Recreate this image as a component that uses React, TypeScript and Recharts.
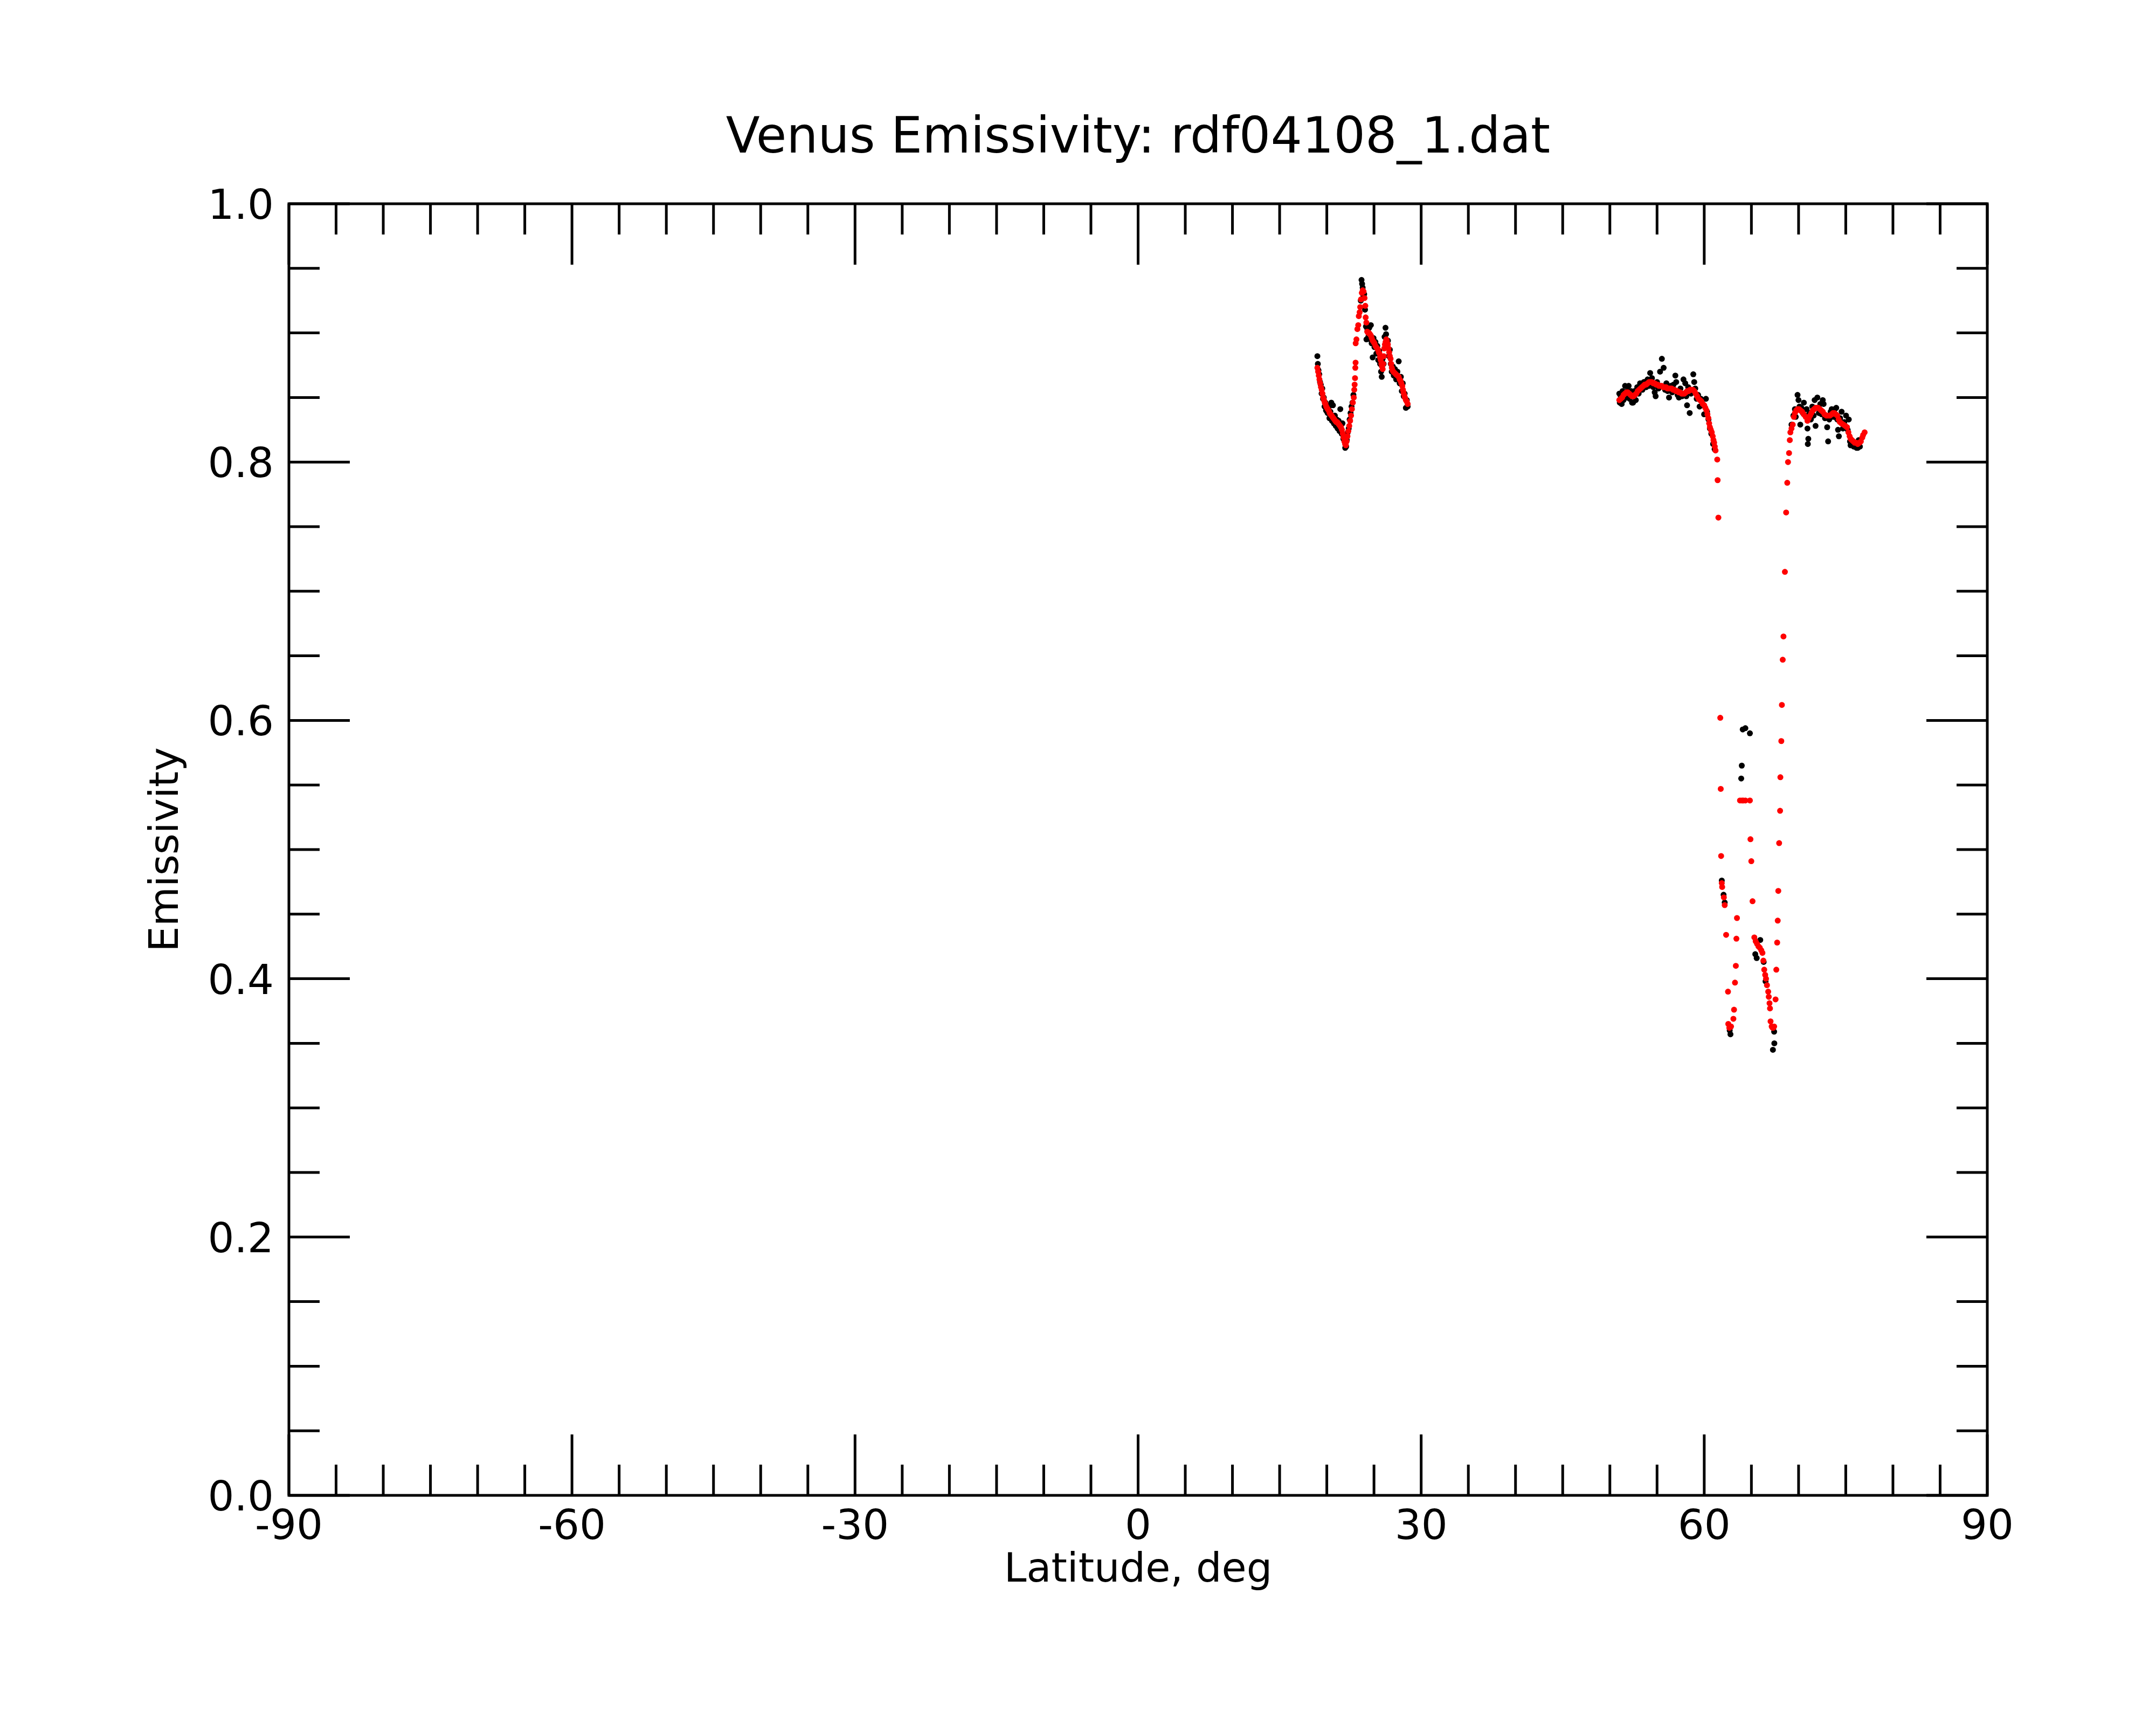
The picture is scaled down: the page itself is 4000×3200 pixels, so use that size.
import React from 'react';
import { ScatterChart, Scatter, XAxis, YAxis, ReferenceArea } from 'recharts';

// ---------- tick definitions ----------
const xMajorTicks = [-90, -60, -30, 0, 30, 60, 90];
const xTickLabels = ['-90', '-60', '-30', '0', '30', '60', '90'];
const xAllTicks = [-90, -85, -80, -75, -70, -65, -60, -55, -50, -45, -40, -35, -30, -25, -20, -15, -10, -5, 0, 5, 10, 15, 20, 25, 30, 35, 40, 45, 50, 55, 60, 65, 70, 75, 80, 85, 90];
const yMajorTicks = [0, 0.2, 0.4, 0.6, 0.8, 1.0];
const yTickLabels = ['0.0', '0.2', '0.4', '0.6', '0.8', '1.0'];
const yAllTicks = [0, 0.05, 0.1, 0.15, 0.2, 0.25, 0.3, 0.35, 0.4, 0.45, 0.5, 0.55, 0.6, 0.65, 0.7, 0.75, 0.8, 0.85, 0.9, 0.95, 1.0];

// ---------- raw emissivity (black) ----------
const blackLat = [
  19.00, 19.05, 19.12, 19.20, 19.28, 19.36, 19.45, 19.52, 19.60, 19.68, 19.76, 19.85, 19.92, 20.00, 20.08, 20.18, 20.28, 20.38, 20.48, 20.55,
  20.65, 20.75, 20.85, 20.95, 21.05, 21.15, 21.25, 21.35, 21.43, 21.50, 21.58, 21.66, 21.75, 21.85, 21.95, 22.05, 22.12, 22.22, 22.32, 22.42,
  22.52, 22.62, 22.72, 22.82,
  23.60, 23.68, 23.74, 23.80, 23.88, 23.96, 24.05, 24.15, 24.20, 24.30, 24.40, 24.50, 24.60, 24.67, 24.75, 24.86, 24.95, 25.05, 25.15, 25.25,
  25.35, 25.45, 25.55, 25.65, 25.75, 25.82, 25.92, 26.02, 26.12, 26.22, 26.28, 26.38, 26.48, 26.58, 26.68, 26.78, 26.88, 27.00, 27.10, 27.22,
  27.35, 27.48, 27.62, 27.72, 27.85, 27.95, 28.05, 28.15, 28.25, 28.38, 28.48, 28.57,
  51.00, 51.05, 51.15, 51.25, 51.35, 51.45, 51.61, 51.72, 51.85, 51.99, 52.10, 52.25, 52.35, 52.46, 52.60, 52.75, 52.90, 53.05, 53.20, 53.32,
  53.45, 53.60, 53.70, 53.85, 54.00, 54.15, 54.27, 54.46, 54.60, 54.75, 54.85, 55.00, 55.15, 55.32, 55.51, 55.70, 55.85, 55.99, 56.12, 56.27,
  56.45, 56.60, 56.75, 56.94, 57.03, 57.18, 57.32, 57.48, 57.65, 57.80, 57.99, 58.10, 58.18, 58.30, 58.46, 58.60, 58.84, 58.94, 59.05, 59.20,
  59.35, 59.51, 59.65, 59.80, 59.99, 60.18, 60.30, 60.45, 60.60, 60.75, 60.94, 61.10,
  61.86, 62.05, 62.17, 62.70, 62.78, 63.92, 63.98, 64.08, 64.36, 64.84, 65.41, 65.56, 65.94, 66.30, 66.50, 67.28, 67.41, 67.43,
  69.25, 69.45, 69.61, 69.70, 69.89, 69.99, 70.10, 70.18, 70.30, 70.45, 70.56, 70.70, 70.85, 70.94, 70.98, 71.03, 71.15, 71.30, 71.45, 71.60,
  71.70, 71.80, 71.99, 72.15, 72.30, 72.45, 72.56, 72.65, 72.80, 73.03, 73.13, 73.25, 73.40, 73.51, 73.70, 73.85, 73.99, 74.10, 74.18, 74.27,
  74.40, 74.56, 74.70, 74.85, 75.03, 75.20, 75.32, 75.45, 75.51, 75.70, 75.85, 76.00, 76.15, 76.27, 76.37, 76.50,
];
const blackEm = [
  0.882, 0.876, 0.871, 0.868, 0.862, 0.860, 0.853, 0.857, 0.849, 0.850, 0.843, 0.846, 0.840, 0.844, 0.838, 0.842, 0.834, 0.839, 0.846, 0.832,
  0.844, 0.830, 0.836, 0.828, 0.833, 0.826, 0.832, 0.824, 0.841, 0.829, 0.822, 0.830, 0.818, 0.821, 0.811, 0.812, 0.817, 0.823, 0.826, 0.833,
  0.838, 0.843, 0.846, 0.852,
  0.925, 0.941, 0.938, 0.935, 0.929, 0.930, 0.918, 0.905, 0.895, 0.903, 0.897, 0.904, 0.895, 0.906, 0.892, 0.881, 0.896, 0.889, 0.893, 0.884,
  0.890, 0.879, 0.886, 0.876, 0.870, 0.866, 0.880, 0.876, 0.897, 0.904, 0.899, 0.891, 0.894, 0.882, 0.887, 0.876, 0.870, 0.874, 0.867, 0.872,
  0.864, 0.870, 0.878, 0.861, 0.866, 0.855, 0.861, 0.851, 0.853, 0.842, 0.848, 0.843,
  0.853, 0.846, 0.851, 0.845, 0.855, 0.848, 0.859, 0.850, 0.855, 0.859, 0.849, 0.855, 0.846, 0.846, 0.855, 0.848, 0.858, 0.853, 0.861, 0.860,
  0.856, 0.862, 0.862, 0.858, 0.864, 0.859, 0.869, 0.865, 0.858, 0.854, 0.851, 0.862, 0.857, 0.870, 0.880, 0.873, 0.856, 0.861, 0.855, 0.850,
  0.859, 0.854, 0.860, 0.867, 0.862, 0.852, 0.850, 0.857, 0.851, 0.864, 0.861, 0.851, 0.844, 0.858, 0.838, 0.853, 0.868, 0.862, 0.857, 0.849,
  0.852, 0.843, 0.849, 0.844, 0.837, 0.849, 0.839, 0.833, 0.826, 0.822, 0.814, 0.810,
  0.476, 0.465, 0.459, 0.360, 0.357, 0.555, 0.565, 0.593, 0.594, 0.590, 0.419, 0.416, 0.430, 0.413, 0.398, 0.345, 0.359, 0.350,
  0.829, 0.836, 0.841, 0.835, 0.852, 0.848, 0.843, 0.829, 0.842, 0.838, 0.846, 0.836, 0.841, 0.826, 0.814, 0.818, 0.838, 0.833, 0.843, 0.836,
  0.848, 0.828, 0.850, 0.838, 0.845, 0.837, 0.848, 0.845, 0.834, 0.827, 0.816, 0.833, 0.839, 0.841, 0.835, 0.841, 0.842, 0.833, 0.825, 0.820,
  0.834, 0.839, 0.826, 0.831, 0.836, 0.825, 0.833, 0.816, 0.813, 0.814, 0.812, 0.813, 0.811, 0.811, 0.817, 0.812,
];

// ---------- smoothed emissivity (red) ----------
const redLat = [
  19.00, 19.08, 19.15, 19.22, 19.30, 19.38, 19.46, 19.54, 19.62, 19.70, 19.78, 19.86, 19.94, 20.02, 20.10, 20.20, 20.30, 20.40, 20.50, 20.60,
  20.70, 20.80, 20.90, 21.00, 21.10, 21.20, 21.30, 21.40, 21.50, 21.60, 21.70, 21.78, 21.86, 21.94, 22.02, 22.10, 22.19, 22.28, 22.38, 22.47,
  22.57, 22.66, 22.76, 22.86, 22.91, 22.95, 22.99, 23.02, 23.05, 23.06, 23.14, 23.24, 23.33, 23.39, 23.48, 23.54, 23.62, 23.71, 23.81, 23.90,
  24.00, 24.08, 24.12, 24.19, 24.28, 24.38, 24.47, 24.57, 24.67, 24.76, 24.86, 24.96, 25.05, 25.15, 25.24, 25.34, 25.43, 25.51, 25.58, 25.65,
  25.71, 25.78, 25.85, 25.92, 25.98, 26.04, 26.09, 26.16, 26.23, 26.30, 26.36, 26.42, 26.47, 26.54, 26.61, 26.68, 26.76, 26.82, 26.89, 26.97,
  27.05, 27.19, 27.33, 27.48, 27.62, 27.72, 27.81, 27.90, 28.00, 28.07, 28.13, 28.20, 28.28, 28.38, 28.47, 28.57,
  51.00, 51.15, 51.30, 51.45, 51.60, 51.75, 51.90, 52.05, 52.20, 52.35, 52.50, 52.65, 52.80, 52.95, 53.10, 53.25, 53.40, 53.55, 53.70, 53.85,
  54.00, 54.15, 54.30, 54.45, 54.60, 54.75, 54.90, 55.05, 55.20, 55.35, 55.50, 55.65, 55.80, 55.95, 56.10, 56.25, 56.40, 56.55, 56.70, 56.85,
  57.00, 57.15, 57.30, 57.45, 57.60, 57.75, 57.90, 58.05, 58.20, 58.35, 58.50, 58.65, 58.80, 58.95, 59.10, 59.25, 59.40, 59.55, 59.70, 59.85,
  60.00, 60.12, 60.24, 60.34, 60.44, 60.52, 60.60, 60.70, 60.80, 60.90, 60.98, 61.05, 61.12, 61.20, 61.38, 61.42, 61.50, 61.70, 61.75, 61.79,
  61.86, 61.90, 62.08, 62.17, 62.32, 62.52, 62.55, 62.66, 62.84, 63.09, 63.16, 63.26, 63.35, 63.41, 63.47, 63.79, 64.00, 64.14, 64.36, 64.84,
  64.90, 64.99, 65.12, 65.31, 65.45, 65.60, 65.75, 65.89, 66.05, 66.17, 66.27, 66.36, 66.46, 66.55, 66.65, 66.78, 66.84, 66.92, 66.97, 67.03,
  67.15, 67.25, 67.31, 67.41, 67.56, 67.64, 67.73, 67.79, 67.85, 67.94, 68.04, 68.07, 68.17, 68.23, 68.32, 68.40, 68.55, 68.68, 68.80, 68.88,
  68.99, 69.07, 69.13, 69.25, 69.38, 69.50, 69.61, 69.75, 69.90, 70.05, 70.20, 70.37, 70.55, 70.75, 70.94, 71.08, 71.22, 71.36, 71.51, 71.65,
  71.80, 71.95, 72.08, 72.25, 72.40, 72.56, 72.75, 72.94, 73.12, 73.32, 73.50, 73.65, 73.79, 73.95, 74.10, 74.25, 74.37, 74.55, 74.75, 74.95,
  75.13, 75.28, 75.41, 75.52, 75.65, 75.80, 75.95, 76.10, 76.27, 76.45, 76.60, 76.75, 76.84, 77.00,
];
const redEm = [
  0.873, 0.870, 0.867, 0.864, 0.861, 0.858, 0.856, 0.853, 0.850, 0.848, 0.846, 0.845, 0.843, 0.842, 0.841, 0.840, 0.838, 0.837, 0.836, 0.835,
  0.834, 0.833, 0.832, 0.831, 0.831, 0.830, 0.829, 0.828, 0.827, 0.825, 0.822, 0.819, 0.816, 0.814, 0.813, 0.816, 0.820, 0.824, 0.828, 0.832,
  0.836, 0.841, 0.846, 0.850, 0.856, 0.860, 0.865, 0.873, 0.877, 0.892, 0.895, 0.903, 0.906, 0.913, 0.916, 0.920, 0.926, 0.931, 0.933, 0.932,
  0.927, 0.921, 0.912, 0.908, 0.901, 0.900, 0.900, 0.899, 0.898, 0.896, 0.894, 0.893, 0.892, 0.890, 0.889, 0.888, 0.887, 0.885, 0.884, 0.881,
  0.879, 0.876, 0.874, 0.872, 0.876, 0.882, 0.888, 0.891, 0.893, 0.895, 0.894, 0.892, 0.891, 0.888, 0.885, 0.882, 0.880, 0.876, 0.873, 0.871,
  0.870, 0.869, 0.868, 0.867, 0.866, 0.864, 0.863, 0.861, 0.859, 0.856, 0.854, 0.852, 0.850, 0.848, 0.847, 0.845,
  0.848, 0.849, 0.850, 0.852, 0.853, 0.854, 0.854, 0.853, 0.852, 0.851, 0.851, 0.852, 0.853, 0.855, 0.856, 0.857, 0.858, 0.859, 0.860, 0.860,
  0.861, 0.862, 0.862, 0.862, 0.861, 0.861, 0.860, 0.860, 0.859, 0.859, 0.859, 0.858, 0.858, 0.858, 0.857, 0.857, 0.857, 0.857, 0.856, 0.856,
  0.855, 0.855, 0.854, 0.854, 0.853, 0.853, 0.853, 0.854, 0.855, 0.855, 0.856, 0.856, 0.856, 0.855, 0.853, 0.851, 0.849, 0.848, 0.847, 0.845,
  0.844, 0.842, 0.840, 0.837, 0.834, 0.830, 0.827, 0.825, 0.823, 0.820, 0.817, 0.815, 0.812, 0.809, 0.802, 0.786, 0.757, 0.602, 0.547, 0.495,
  0.474, 0.471, 0.463, 0.457, 0.434, 0.390, 0.365, 0.362, 0.363, 0.369, 0.376, 0.397, 0.410, 0.431, 0.447, 0.538, 0.538, 0.538, 0.538, 0.538,
  0.508, 0.491, 0.460, 0.432, 0.429, 0.427, 0.425, 0.424, 0.422, 0.420, 0.414, 0.407, 0.403, 0.400, 0.395, 0.390, 0.386, 0.381, 0.377, 0.367,
  0.363, 0.362, 0.362, 0.363, 0.384, 0.407, 0.428, 0.445, 0.468, 0.505, 0.530, 0.556, 0.584, 0.612, 0.647, 0.665, 0.715, 0.761, 0.784, 0.800,
  0.807, 0.817, 0.823, 0.826, 0.829, 0.835, 0.838, 0.840, 0.841, 0.841, 0.840, 0.839, 0.837, 0.835, 0.832, 0.834, 0.836, 0.838, 0.840, 0.841,
  0.842, 0.842, 0.842, 0.841, 0.840, 0.839, 0.837, 0.836, 0.836, 0.836, 0.837, 0.838, 0.838, 0.837, 0.836, 0.833, 0.831, 0.830, 0.829, 0.828,
  0.827, 0.823, 0.820, 0.818, 0.817, 0.816, 0.815, 0.815, 0.814, 0.815, 0.816, 0.819, 0.821, 0.823,
];

const blackData = blackLat.map((lat, i) => ({ lat, em: blackEm[i] }));
const redData = redLat.map((lat, i) => ({ lat, em: redEm[i] }));

// ---------- layout constants ----------
const W = 4000;
const H = 3200;
const PLOT_LEFT = 536;
const PLOT_TOP = 378;
const PLOT_RIGHT = 3687;
const PLOT_BOTTOM = 2774;
const PLOT_W = PLOT_RIGHT - PLOT_LEFT;
const PLOT_H = PLOT_BOTTOM - PLOT_TOP;
const MAJOR_LEN = 113;
const MINOR_LEN = 57;
const LW = 5;
const FONT = 'DejaVu Sans';
const TICK_FS = 77;
const LABEL_FS = 75;
const TITLE_FS = 92;

const XTick = (props: any) => {
  const { x, y, payload } = props;
  const v = payload.value;
  const idx = xMajorTicks.indexOf(v);
  const major = idx >= 0;
  const len = major ? MAJOR_LEN : MINOR_LEN;
  return (
    <g>
      <line x1={x} y1={y} x2={x} y2={y - len} stroke="#000" strokeWidth={LW} />
      <line x1={x} y1={y - PLOT_H} x2={x} y2={y - PLOT_H + len} stroke="#000" strokeWidth={LW} />
      {major && (
        <text x={x} y={y + 81} textAnchor="middle" fontFamily={FONT} fontSize={TICK_FS} fill="#000">
          {xTickLabels[idx]}
        </text>
      )}
    </g>
  );
};

const YTick = (props: any) => {
  const { x, y, payload } = props;
  const v = payload.value;
  const idx = yMajorTicks.findIndex((t) => Math.abs(t - v) < 1e-9);
  const major = idx >= 0;
  const len = major ? MAJOR_LEN : MINOR_LEN;
  return (
    <g>
      <line x1={x} y1={y} x2={x + len} y2={y} stroke="#000" strokeWidth={LW} />
      <line x1={x + PLOT_W} y1={y} x2={x + PLOT_W - len} y2={y} stroke="#000" strokeWidth={LW} />
      {major && (
        <text x={x - 28} y={y + 28} textAnchor="end" fontFamily={FONT} fontSize={TICK_FS} fill="#000">
          {yTickLabels[idx]}
        </text>
      )}
    </g>
  );
};

const BlackDot = (p: any) => <circle cx={p.cx} cy={p.cy} r={5.5} fill="#000000" />;
const RedDot = (p: any) => <circle cx={p.cx} cy={p.cy} r={5.5} fill="#ff0000" />;

export default function App() {
  return (
    <div style={{ position: 'absolute', left: 0, top: 0, width: W, height: H, background: '#ffffff' }}>
      <ScatterChart
        width={W}
        height={H}
        margin={{ top: PLOT_TOP, right: W - PLOT_RIGHT, bottom: 0, left: 0 }}
      >
        <XAxis
          dataKey="lat"
          type="number"
          domain={[-90, 90]}
          ticks={xAllTicks}
          interval={0}
          allowDataOverflow
          height={H - PLOT_BOTTOM}
          tickSize={0}
          tickMargin={0}
          tickLine={false}
          axisLine={false}
          tick={XTick}
        />
        <YAxis
          dataKey="em"
          type="number"
          domain={[0, 1]}
          ticks={yAllTicks}
          interval={0}
          allowDataOverflow
          width={PLOT_LEFT}
          tickSize={0}
          tickMargin={0}
          tickLine={false}
          axisLine={false}
          tick={YTick}
        />
        <ReferenceArea
          x1={-90}
          x2={90}
          y1={0}
          y2={1}
          fill="none"
          fillOpacity={0}
          stroke="#000"
          strokeWidth={LW}
          ifOverflow="visible"
        />
        <Scatter data={blackData} fill="#000" shape={BlackDot} isAnimationActive={false} />
        <Scatter data={redData} fill="#f00" shape={RedDot} isAnimationActive={false} />
        <text x={(PLOT_LEFT + PLOT_RIGHT) / 2} y={283} textAnchor="middle" fontFamily={FONT} fontSize={TITLE_FS} fill="#000">
          Venus Emissivity: rdf04108_1.dat
        </text>
        <text x={(PLOT_LEFT + PLOT_RIGHT) / 2} y={2934} textAnchor="middle" fontFamily={FONT} fontSize={LABEL_FS} fill="#000">
          Latitude, deg
        </text>
        <text
          x={330}
          y={(PLOT_TOP + PLOT_BOTTOM) / 2}
          textAnchor="middle"
          fontFamily={FONT}
          fontSize={LABEL_FS}
          fill="#000"
          transform={`rotate(-90, 330, ${(PLOT_TOP + PLOT_BOTTOM) / 2})`}
        >
          Emissivity
        </text>
      </ScatterChart>
    </div>
  );
}
